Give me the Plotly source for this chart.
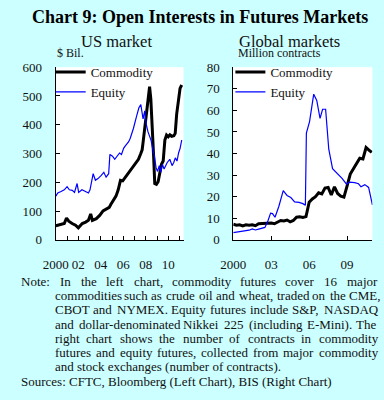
import plotly.graph_objects as go

# ---------------- data ----------------
us_comm_t = [2000.0, 2000.3, 2000.75, 2000.95, 2001.15, 2001.45, 2001.75, 2002.0, 2002.35, 2002.65,
             2002.9, 2003.1, 2003.25, 2003.6, 2003.9, 2004.2, 2004.5, 2004.75, 2004.9, 2005.2,
             2005.35, 2005.55, 2005.75, 2005.95, 2006.2, 2006.5, 2006.75, 2007.05, 2007.35, 2007.55,
             2007.68, 2007.78, 2007.9, 2008.05, 2008.2, 2008.34, 2008.45, 2008.58, 2008.7, 2008.8,
             2008.95, 2009.1, 2009.25, 2009.4, 2009.55, 2009.7, 2009.85, 2010.0, 2010.15, 2010.3,
             2010.5, 2010.62, 2010.75, 2010.9, 2011.05, 2011.2]
us_comm = [49, 53, 57, 76, 65, 57, 51, 42, 57, 62,
           68, 90, 68, 74, 85, 101, 107, 113, 124, 140,
           152, 174, 207, 205, 218, 235, 246, 263, 280, 299,
           313, 345, 390, 437, 498, 532, 490, 400, 290, 196,
           193, 202, 230, 263, 274, 347, 364, 358, 365, 360,
           362, 370, 437, 493, 526, 538]

us_eq_t = [2000.0, 2000.17, 2000.46, 2000.75, 2001.0, 2001.2, 2001.46, 2001.66, 2001.89, 2002.03,
           2002.32, 2002.6, 2002.9, 2003.04, 2003.32, 2003.52, 2003.75, 2004.04, 2004.27, 2004.47,
           2004.7, 2004.81, 2005.04, 2005.24, 2005.47, 2005.67, 2005.84, 2006.04, 2006.25, 2006.48,
           2006.62, 2006.9, 2007.19, 2007.39, 2007.56, 2007.76, 2007.91, 2008.05, 2008.2, 2008.34,
           2008.48, 2008.62, 2008.77, 2008.92, 2009.05, 2009.2, 2009.34, 2009.48, 2009.63, 2009.91,
           2010.14, 2010.34, 2010.49, 2010.63, 2010.78, 2010.92, 2011.06, 2011.2]
us_eq = [152, 163, 168, 174, 185, 174, 172, 165, 196, 165,
         174, 168, 163, 174, 230, 207, 213, 224, 235, 218,
         230, 297, 291, 280, 291, 302, 297, 319, 330, 341,
         353, 387, 431, 459, 470, 420, 448, 400, 375, 360,
         345, 315, 290, 250, 238, 258, 235, 263, 246, 269,
         280, 258, 269, 285, 274, 302, 319, 347]

gl_comm_t = [2000.0, 2000.25, 2000.5, 2000.75, 2001.0, 2001.25, 2001.5, 2001.75, 2002.0, 2002.25,
             2002.5, 2002.75, 2003.0, 2003.25, 2003.5, 2003.75, 2004.0, 2004.25, 2004.5, 2004.75,
             2005.0, 2005.25, 2005.5, 2005.75, 2006.0, 2006.25, 2006.5, 2006.75, 2007.0, 2007.25,
             2007.5, 2007.75, 2008.0, 2008.25, 2008.5, 2008.75, 2009.0, 2009.25, 2009.5, 2009.75,
             2010.0, 2010.25, 2010.5, 2010.75, 2010.95]
gl_comm = [7.3, 6.8, 7.0, 6.5, 7.0, 6.8, 7.0, 6.6, 7.5, 7.6,
           7.5, 7.6, 7.8, 7.5, 8.3, 9.0, 8.8, 9.2, 8.4, 9.0,
           10.5, 10.7, 10.4, 10.8, 17.5, 19.0, 20.0, 21.8, 21.3, 24.0,
           24.3, 20.8, 24.6, 21.5, 20.3, 19.8, 25.0, 30.5, 33.0, 35.5,
           37.8, 37.5, 42.8, 41.5, 40.5]

gl_eq_t = [2000.0, 2000.25, 2000.5, 2000.75, 2001.0, 2001.25, 2001.5, 2001.75, 2002.0, 2002.25,
           2002.5, 2002.75, 2002.95, 2003.1, 2003.3, 2003.6, 2003.95, 2004.25, 2004.55, 2004.85,
           2005.2, 2005.5, 2005.7, 2005.78, 2006.03, 2006.36, 2006.6, 2006.86, 2007.06, 2007.3,
           2007.55, 2007.85, 2008.3, 2008.6, 2008.95, 2009.2, 2009.6, 2009.9, 2010.1, 2010.4,
           2010.7, 2010.85, 2011.0]
gl_eq = [3.4, 3.6, 3.8, 4.0, 4.2, 4.5, 5.1, 4.6, 5.0, 5.3,
         5.8, 9.0, 12.4, 12.2, 10.5, 15.5, 22.8, 20.6, 19.6, 17.6,
         17.4, 16.8, 16.0, 49.5, 54.8, 67.5, 64.6, 56.3, 60.5, 60.5,
         42.0, 33.0, 30.5, 28.5, 25.8, 26.8, 26.5, 26.0, 24.6, 25.6,
         24.3, 20.0, 16.2]

us_tickvals = list(range(2000, 2012))
us_ticktext = ["2000", "", "02", "", "04", "", "06", "", "08", "", "10", ""]
gl_tickvals = [2000, 2003, 2006, 2009]
gl_ticktext = ["2000", "03", "06", "09"]

title_text = "Chart 9: Open Interests in Futures Markets"
left_title = "US market"
right_title = "Global markets"
left_unit = "$ Bil."
right_unit = "Million contracts"

note_label = "Note:"
note_lines = [
    "In the left chart, commodity futures cover 16 major",
    "commodities such as crude oil and wheat, traded on the CME,",
    "CBOT and NYMEX. Equity futures include S&P, NASDAQ",
    "and dollar-denominated Nikkei 225 (including E-Mini). The",
    "right chart shows the number of contracts in commodity",
    "futures and equity futures, collected from major commodity",
    "and stock exchanges (number of contracts).",
]
sources_text = "Sources: CFTC, Bloomberg (Left Chart), BIS (Right Chart)"

# ---------------- layout helpers ----------------
W, H = 384, 400
FONT = "Liberation Serif, Times New Roman, serif"
BG = "#CCFFFF"

def px(x):
    return x / W

def py(y):
    return 1 - y / H

# Times / Liberation Serif advance widths (1/1000 em)
TW = {' ': 250, 'a': 444, 'b': 500, 'c': 444, 'd': 500, 'e': 444, 'f': 333, 'g': 500, 'h': 500,
      'i': 278, 'j': 278, 'k': 500, 'l': 278, 'm': 778, 'n': 500, 'o': 500, 'p': 500, 'q': 500,
      'r': 333, 's': 389, 't': 278, 'u': 500, 'v': 500, 'w': 722, 'x': 500, 'y': 500, 'z': 444,
      'A': 722, 'B': 667, 'C': 667, 'D': 722, 'E': 611, 'F': 556, 'G': 722, 'H': 722, 'I': 333,
      'J': 389, 'K': 722, 'L': 611, 'M': 889, 'N': 722, 'O': 722, 'P': 556, 'Q': 722, 'R': 667,
      'S': 556, 'T': 611, 'U': 722, 'V': 722, 'W': 944, 'X': 722, 'Y': 722, 'Z': 611,
      ',': 250, '.': 250, ':': 278, ';': 278, '(': 333, ')': 333, '-': 333, '&': 778}

def text_w(s, size):
    return sum(TW.get(c, 500) for c in s) / 1000 * size

NOTE_SIZE = 13

fig = go.Figure()

fig.add_trace(go.Scatter(x=us_comm_t, y=us_comm, mode="lines", name="Commodity",
                         line=dict(color="black", width=3), xaxis="x", yaxis="y", legend="legend"))
fig.add_trace(go.Scatter(x=us_eq_t, y=us_eq, mode="lines", name="Equity",
                         line=dict(color="#0000FF", width=1.2), xaxis="x", yaxis="y", legend="legend"))
fig.add_trace(go.Scatter(x=gl_comm_t, y=gl_comm, mode="lines", name="Commodity",
                         line=dict(color="black", width=3), xaxis="x2", yaxis="y2", legend="legend2"))
fig.add_trace(go.Scatter(x=gl_eq_t, y=gl_eq, mode="lines", name="Equity",
                         line=dict(color="#0000FF", width=1.2), xaxis="x2", yaxis="y2", legend="legend2"))

axis_common = dict(showline=True, linecolor="black", linewidth=1, ticks="inside", ticklen=4,
                   tickcolor="black", tickwidth=1, showgrid=False, zeroline=False,
                   tickfont=dict(family=FONT, size=13, color="#111"), fixedrange=True)

ydom = [py(242), py(62.5)]

legend_common = dict(xanchor="left", yanchor="top", bgcolor="rgba(0,0,0,0)",
                     font=dict(family=FONT, size=13, color="#111"), tracegroupgap=0, itemwidth=30)

fig.update_layout(
    width=W, height=H, autosize=False,
    margin=dict(l=0, r=0, t=0, b=0),
    paper_bgcolor=BG, plot_bgcolor="white",
    font=dict(family=FONT, color="#111"),
    xaxis=dict(domain=[px(44), px(176.5)], range=[1999.97, 2011.36], tickmode="array",
               tickvals=us_tickvals, ticktext=us_ticktext, anchor="y", ticklabelstandoff=12,
               **axis_common),
    yaxis=dict(domain=ydom, range=[0, 600], dtick=100, anchor="x", ticklabelstandoff=10,
               **axis_common),
    xaxis2=dict(domain=[px(228), px(372)], range=[2000, 2011], tickmode="array",
                tickvals=gl_tickvals, ticktext=gl_ticktext, anchor="y2", ticklabelstandoff=12,
                **axis_common),
    yaxis2=dict(domain=ydom, range=[0, 80], dtick=10, anchor="x2", ticklabelstandoff=10,
                **axis_common),
    legend=dict(x=px(39), y=py(52), **legend_common),
    legend2=dict(x=px(225), y=py(52), **legend_common),
    showlegend=True,
)

ann = []

def add_text(x, y, text, size, xanchor="left", bold=False, color="#111"):
    ann.append(dict(x=px(x), y=py(y), xref="paper", yref="paper", text=("<b>%s</b>" % text) if bold else text,
                    showarrow=False, xanchor=xanchor, yanchor="middle", borderpad=0,
                    font=dict(family=FONT, size=size, color=color)))

add_text(193.5, 10.5, title_text, 18, xanchor="center", bold=True, color="#000")
add_text(107.5, 35.5, left_title, 16.5, xanchor="center")
add_text(286, 35.5, right_title, 16.5, xanchor="center")
add_text(45, 48, left_unit, 12)
add_text(232, 48, right_unit, 12)

# Notes (justified like the original)
line_y0, line_dy = 285, 14.8
add_text(7, line_y0, note_label, NOTE_SIZE)
justify = [(47.3, 374.7), (42, 378.5), (42, 374.7), (42, 374.7), (42, 374.7), (42, 374.7), None]
for i, line in enumerate(note_lines):
    y = line_y0 + i * line_dy
    spec = justify[i]
    if spec is None:
        add_text(42, y, line, NOTE_SIZE)
        continue
    x0, x1 = spec
    words = line.split(" ")
    widths = [text_w(w_, NOTE_SIZE) for w_ in words]
    gap = (x1 - x0 - sum(widths)) / (len(words) - 1)
    x = x0
    for w_, ww in zip(words, widths):
        add_text(x, y, w_, NOTE_SIZE)
        x += ww + gap
add_text(7, line_y0 + 7 * line_dy, sources_text, NOTE_SIZE)

fig.update_layout(annotations=ann)

fig.write_html(
    "out.html",
    config={"displayModeBar": False},
    post_script="document.body.style.margin='0px';document.body.style.padding='0px';"
                "document.documentElement.style.overflow='hidden';document.body.style.overflow='hidden';",
)
